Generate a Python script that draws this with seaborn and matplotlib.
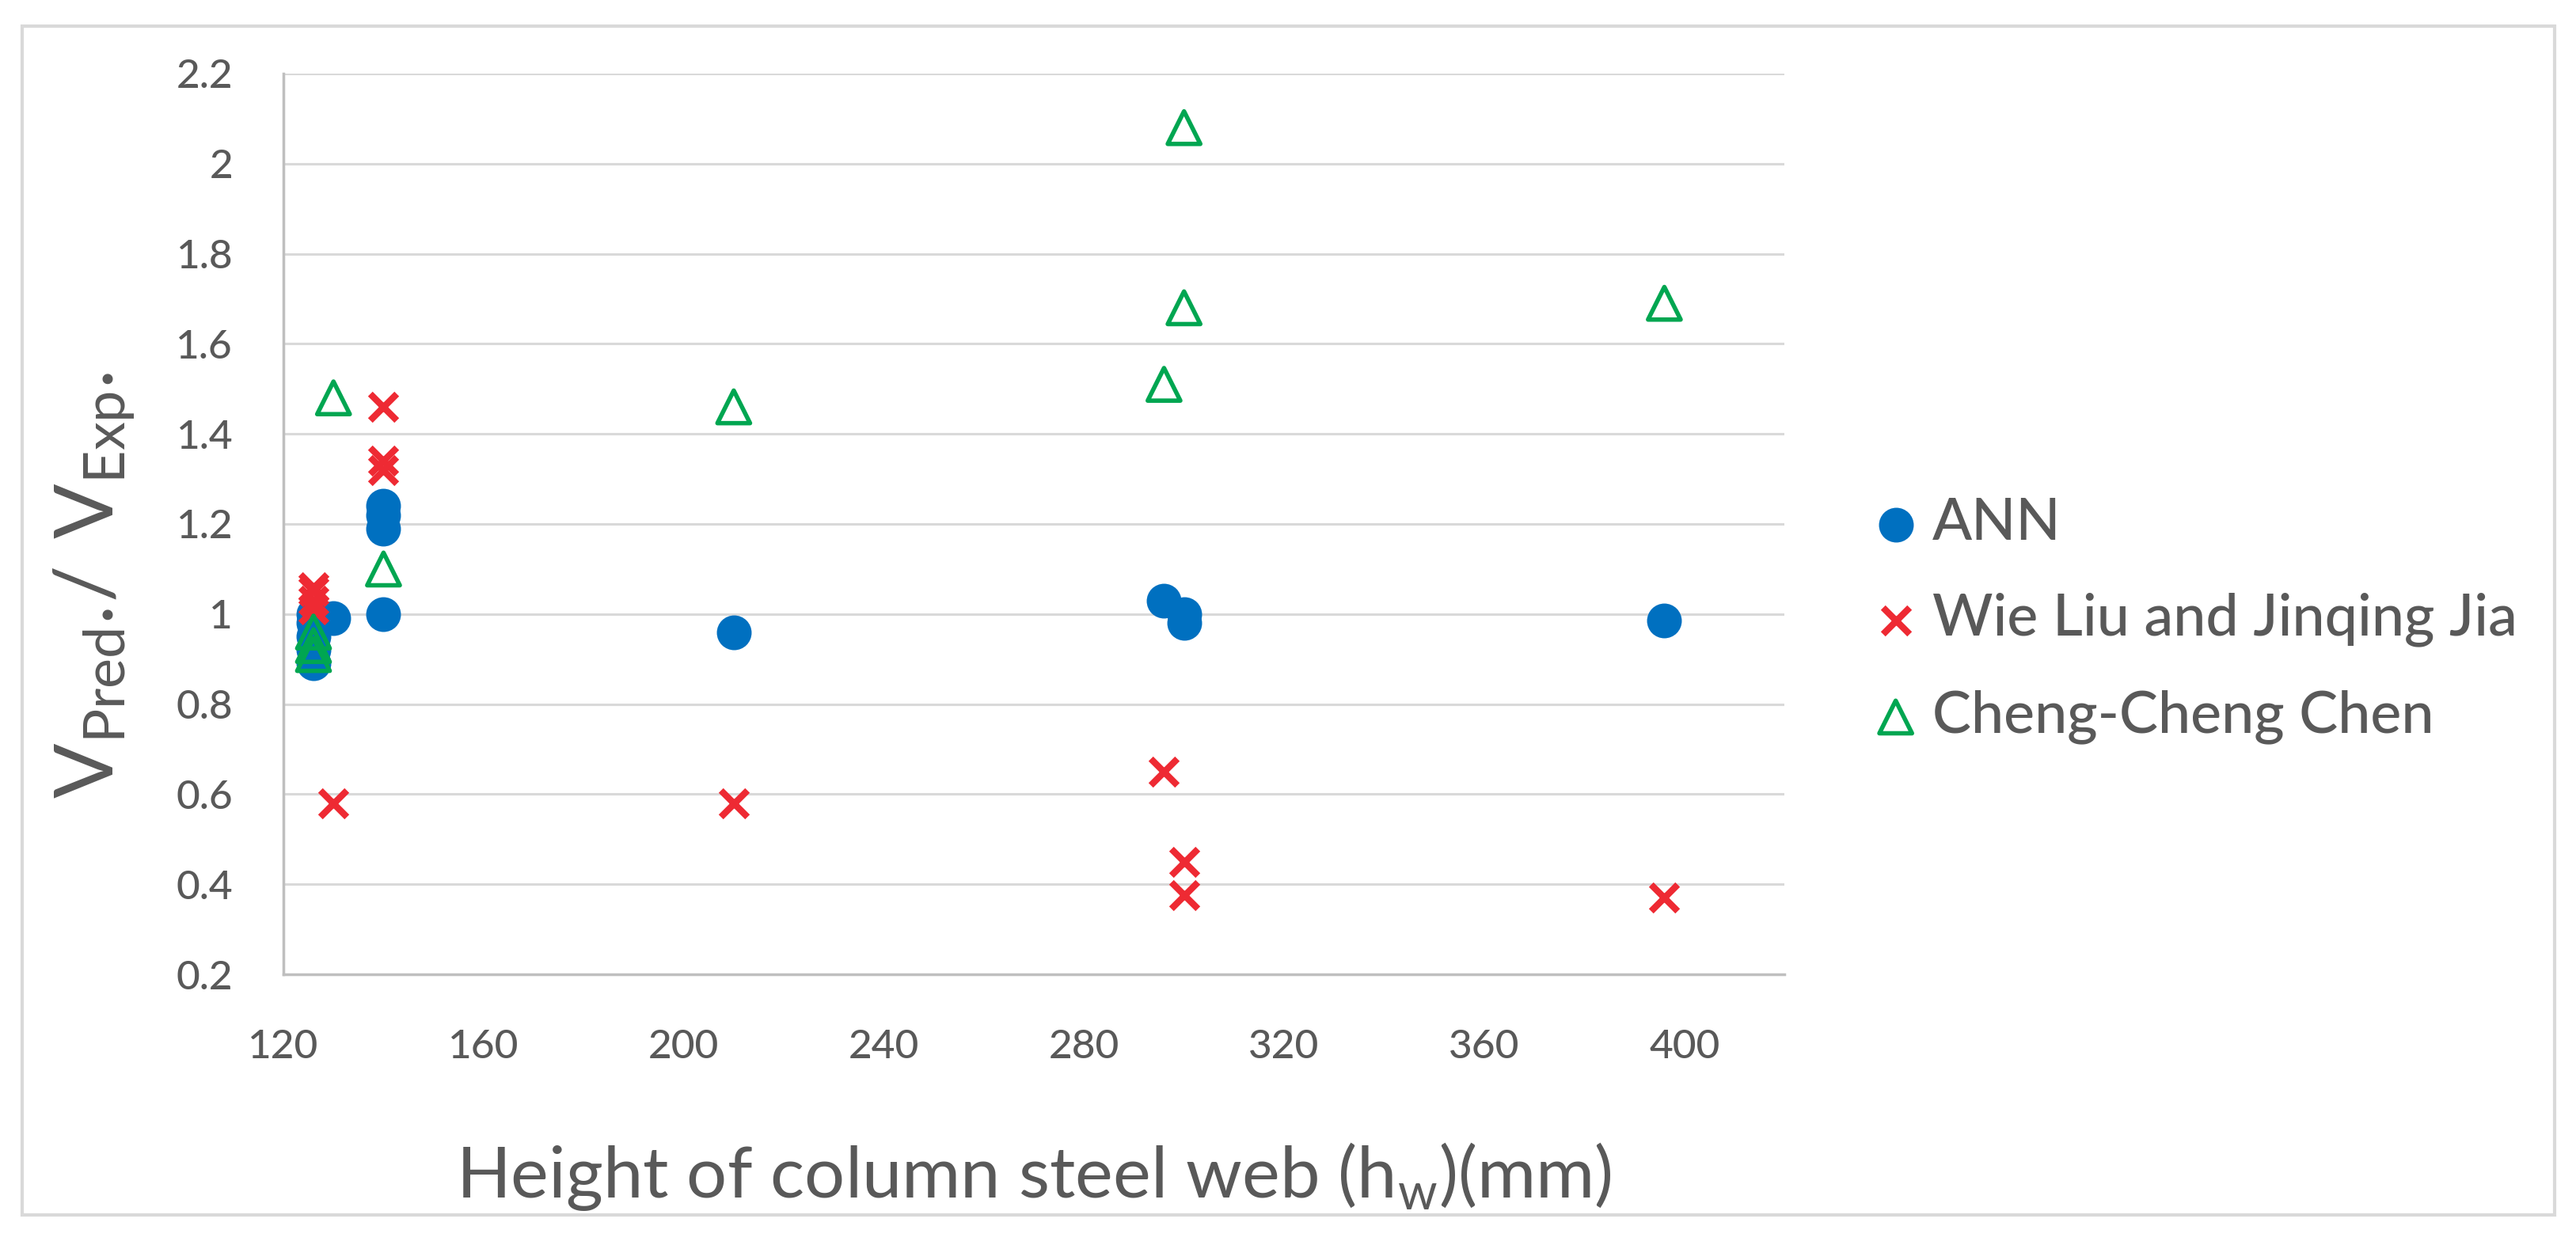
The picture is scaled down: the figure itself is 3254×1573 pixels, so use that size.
import matplotlib
matplotlib.use("Agg")
import matplotlib.pyplot as plt
import matplotlib.patches as mpatches
import pandas as pd
import seaborn as sns

# column steel web height (mm) per series
ann_x = [126, 126, 126, 126, 126, 130, 140, 140, 140, 140, 210, 296, 300, 300, 396]
ann_y = [0.89, 0.92, 0.95, 0.98, 1.00, 0.99, 1.00, 1.19, 1.22, 1.24, 0.96, 1.03, 1.00, 0.98, 0.985]

liu_x = [126, 126, 126, 126, 130, 140, 140, 140, 210, 296, 300, 300, 396]
liu_y = [1.06, 1.05, 1.03, 1.01, 0.58, 1.46, 1.34, 1.32, 0.58, 0.65, 0.45, 0.375, 0.37]

chen_x = [126, 126, 126, 130, 140, 210, 296, 300, 300, 396]
chen_y = [0.96, 0.93, 0.91, 1.48, 1.10, 1.46, 1.51, 2.08, 1.68, 1.69]

series_names = ["ANN", "Wie Liu and Jinqing Jia", "Cheng-Cheng Chen"]
x_ticks = [120, 160, 200, 240, 280, 320, 360, 400]
y_ticks = [0.2, 0.4, 0.6, 0.8, 1, 1.2, 1.4, 1.6, 1.8, 2, 2.2]

sns.set_style("white")
plt.rcParams["font.family"] = ["Lato", "DejaVu Sans"]
plt.rcParams["font.weight"] = 500
plt.rcParams["mathtext.fontset"] = "custom"
plt.rcParams["mathtext.rm"] = "Lato:medium"
txt = "#595959"

fig = plt.figure(figsize=(32.55, 15.73), dpi=100)
ax = fig.add_axes([0.110, 0.2174, 0.5825, 0.7235])

df_ann = pd.DataFrame({"x": ann_x, "y": ann_y})
df_liu = pd.DataFrame({"x": liu_x, "y": liu_y})

sns.scatterplot(data=df_ann, x="x", y="y", ax=ax, marker="o", s=1000, color="#0070C0",
                linewidth=0, label=series_names[0], zorder=3)
sns.scatterplot(data=df_liu, x="x", y="y", ax=ax, marker="x", s=580, color="#EE2A33",
                linewidth=6, label=series_names[1], zorder=4)
ax.scatter(chen_x, chen_y, marker="^", s=880, facecolors="none", edgecolors="#00A651",
           linewidths=4, label=series_names[2], zorder=5)

ax.set_xlim(120, 420)
ax.set_ylim(0.2, 2.2)
ax.set_xticks(x_ticks)
ax.set_yticks(y_ticks)
ax.set_yticklabels([f"{v:g}" for v in y_ticks])
ax.tick_params(axis="both", length=0, labelsize=37, labelcolor=txt)
ax.tick_params(axis="y", pad=46)
ax.tick_params(axis="x", pad=50)

ax.grid(axis="y", color="#D9D9D9", linewidth=2.2)
ax.grid(axis="x", visible=False)
for side in ["top", "right"]:
    ax.spines[side].set_visible(False)
for side in ["left", "bottom"]:
    ax.spines[side].set_color("#BFBFBF")
    ax.spines[side].set_linewidth(2.5)

ax.set_xlabel(r"Height of column steel web (h$_\mathregular{w}$)(mm)", fontsize=65, color=txt, labelpad=68)
ax.set_ylabel(r"$\mathregular{V_{Pred}.\!/\ V_{Exp}.}$", fontsize=74, color=txt)
ax.yaxis.set_label_coords(-0.098, 0.432)

handles, labels = ax.get_legend_handles_labels()
if ax.legend_:
    ax.legend_.remove()
fig.legend(handles, labels, loc="center left", bbox_to_anchor=(0.7272, 0.5016), frameon=False,
           fontsize=53, labelcolor=txt, handlelength=0.75, handletextpad=0.25, labelspacing=0.73,
           borderpad=0, borderaxespad=0)

fig.patches.append(mpatches.Rectangle((28 / 3255, 1 - 1535 / 1573), (3227 - 28) / 3255, (1535 - 33) / 1573,
                                      transform=fig.transFigure, fill=False, edgecolor="#D9D9D9",
                                      linewidth=3))

fig.savefig("out.png", dpi=100)
